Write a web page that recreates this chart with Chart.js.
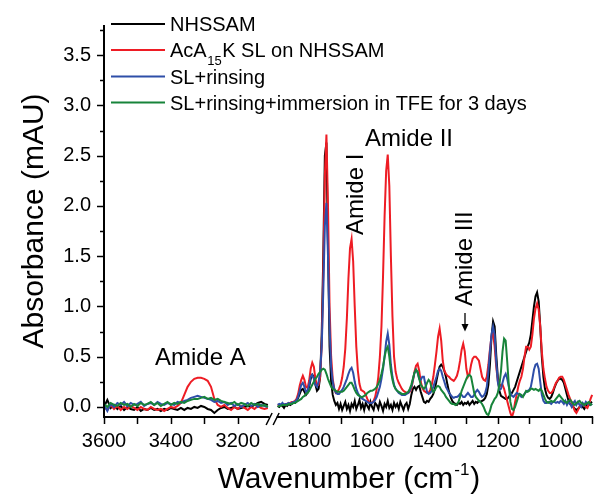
<!DOCTYPE html>
<html><head><meta charset="utf-8">
<script src="https://cdn.jsdelivr.net/npm/chart.js@4/dist/chart.umd.min.js"></script>
<style>html,body{margin:0;padding:0;background:#fff}#wrap{width:595px;height:494px}</style>
</head><body><div id="wrap"><canvas id="c" width="595" height="494"></canvas></div>
<script>
const seriesNames = ['NHSSAM', 'AcA15K SL on NHSSAM', 'SL+rinsing', 'SL+rinsing+immersion in TFE for 3 days'];
const seriesColors = ['#000000', '#ee1c24', '#2e4ea8', '#17843a'];

const leftWavenumbers = [
3600,3590,3580,3570,3560,3550,3540,3530,3520,3510,
3500,3490,3480,3470,3460,3450,3440,3430,3420,3410,
3400,3390,3380,3370,3360,3350,3340,3330,3320,3310,
3300,3290,3280,3270,3260,3250,3240,3230,3220,3210,
3200,3190,3180,3170,3160,3150,3140,3130,3120,3110];

const rightWavenumbers = [
1900,1895,1890,1885,1880,1875,1870,1865,1860,1855,
1850,1845,1840,1835,1830,1825,1820,1815,1810,1805,
1800,1795,1790,1785,1780,1775,1770,1765,1760,1755,
1750,1745,1740,1735,1730,1725,1720,1715,1710,1705,
1700,1695,1690,1685,1680,1675,1670,1665,1660,1655,
1650,1645,1640,1635,1630,1625,1620,1615,1610,1605,
1600,1595,1590,1585,1580,1575,1570,1565,1560,1555,
1550,1545,1540,1535,1530,1525,1520,1515,1510,1505,
1500,1495,1490,1485,1480,1475,1470,1465,1460,1455,
1450,1445,1440,1435,1430,1425,1420,1415,1410,1405,
1400,1395,1390,1385,1380,1375,1370,1365,1360,1355,
1350,1345,1340,1335,1330,1325,1320,1315,1310,1305,
1300,1295,1290,1285,1280,1275,1270,1265,1260,1255,
1250,1245,1240,1235,1230,1225,1220,1215,1210,1205,
1200,1195,1190,1185,1180,1175,1170,1165,1160,1155,
1150,1145,1140,1135,1130,1125,1120,1115,1110,1105,
1100,1095,1090,1085,1080,1075,1070,1065,1060,1055,
1050,1045,1040,1035,1030,1025,1020,1015,1010,1005,
1000,995,990,985,980,975,970,965,960,955,
950,945,940,935,930,925,920,915,910,905,
900];

const nhssamLeft = [
0.00,0.07,-0.01,0.02,-0.02,0.01,-0.03,0.00,-0.02,-0.03,
0.00,-0.04,-0.02,-0.03,-0.01,-0.03,-0.02,-0.04,-0.02,-0.03,
-0.01,-0.02,-0.03,-0.01,-0.03,-0.01,-0.02,0.00,-0.01,0.01,
0.00,-0.02,-0.03,-0.06,-0.03,-0.01,0.00,-0.02,-0.01,0.00,
-0.02,-0.01,0.00,0.01,0.00,0.02,0.04,0.05,0.03,0.02];
const slLeft = [
0.00,-0.03,0.02,-0.02,0.01,-0.03,0.00,-0.02,0.01,-0.01,
-0.03,0.00,-0.02,-0.03,0.00,-0.02,-0.03,-0.02,-0.04,-0.02,
0.00,-0.01,0.01,0.04,0.12,0.20,0.25,0.28,0.29,0.29,
0.28,0.26,0.20,0.08,0.02,0.00,0.02,-0.01,-0.03,0.00,
-0.02,0.01,-0.01,-0.03,0.00,-0.02,0.01,-0.01,-0.02,-0.01];
const rinseLeft = [
0.02,-0.04,0.03,0.00,0.04,0.02,0.05,0.01,0.04,0.02,
0.03,0.05,0.01,0.03,0.04,0.02,0.05,0.03,0.02,0.04,
0.03,0.02,0.05,0.04,0.06,0.07,0.09,0.10,0.11,0.10,
0.09,0.08,0.07,0.05,0.06,0.04,0.05,0.02,0.04,0.01,
0.03,0.00,0.02,0.04,0.01,0.03,0.00,0.02,0.01,0.00];
const tfeLeft = [
0.03,0.00,0.04,0.02,0.01,0.04,0.02,0.03,0.00,0.03,
0.01,0.04,0.02,0.03,0.05,0.02,0.04,0.01,0.03,0.05,
0.02,0.04,0.03,0.05,0.04,0.06,0.07,0.08,0.08,0.09,
0.10,0.08,0.09,0.07,0.08,0.06,0.05,0.04,0.03,0.05,
0.02,0.04,0.03,0.01,0.04,0.02,0.03,0.01,0.02,0.00];

const nhssamRight = [
0.01,0.00,0.02,0.01,-0.01,0.02,0.01,0.03,0.02,0.03,
0.04,0.04,0.06,0.09,0.13,0.17,0.18,0.15,0.12,0.14,
0.20,0.28,0.32,0.30,0.22,0.16,0.18,0.30,0.72,1.50,
2.50,2.63,1.60,0.60,0.25,0.12,0.06,0.02,0.04,-0.02,
0.03,-0.03,0.01,0.05,-0.02,0.02,-0.04,0.03,0.00,0.06,
-0.02,0.02,0.07,-0.01,0.03,-0.03,0.04,0.01,-0.02,0.05,
0.00,-0.03,0.04,0.02,-0.02,0.05,0.01,-0.04,0.03,0.00,
0.06,-0.01,0.02,-0.03,0.04,0.00,0.03,-0.02,0.05,0.01,
-0.03,0.02,0.04,-0.02,0.03,0.12,0.18,0.20,0.17,0.20,
0.21,0.15,0.10,0.05,0.04,0.06,0.05,0.08,0.10,0.13,
0.18,0.26,0.34,0.40,0.42,0.40,0.36,0.30,0.22,0.15,
0.10,0.06,0.04,0.03,0.02,0.04,0.03,0.05,0.02,0.04,
0.03,0.05,0.02,0.04,0.06,0.03,0.05,0.04,0.06,0.05,
0.06,0.07,0.09,0.13,0.22,0.42,0.70,0.85,0.80,0.52,
0.30,0.16,0.11,0.10,0.09,0.08,0.08,0.10,0.12,0.14,
0.17,0.20,0.25,0.30,0.35,0.40,0.45,0.50,0.55,0.60,
0.64,0.72,0.86,1.00,1.10,1.14,1.05,0.80,0.50,0.30,
0.18,0.12,0.09,0.08,0.10,0.14,0.19,0.23,0.26,0.28,
0.28,0.27,0.24,0.18,0.12,0.06,0.03,0.02,0.00,-0.02,
-0.03,-0.02,0.00,0.02,0.00,-0.02,0.01,0.03,0.02,0.04,
0.05];
const slRight = [
0.02,0.02,0.01,0.03,0.02,0.03,0.03,0.04,0.04,0.05,
0.05,0.06,0.08,0.13,0.21,0.27,0.31,0.27,0.20,0.19,
0.26,0.38,0.44,0.40,0.28,0.21,0.22,0.30,0.62,1.35,
2.30,2.71,2.00,1.00,0.50,0.28,0.18,0.14,0.15,0.18,
0.22,0.29,0.40,0.58,0.88,1.28,1.58,1.67,1.45,1.00,
0.60,0.36,0.23,0.17,0.16,0.15,0.12,0.08,0.05,0.04,
0.04,0.06,0.10,0.18,0.30,0.50,0.80,1.30,1.90,2.35,
2.51,2.20,1.50,0.90,0.50,0.35,0.28,0.24,0.21,0.18,
0.16,0.15,0.14,0.14,0.15,0.18,0.26,0.35,0.41,0.43,
0.36,0.25,0.19,0.16,0.15,0.14,0.14,0.17,0.22,0.30,
0.42,0.55,0.70,0.78,0.66,0.46,0.36,0.33,0.31,0.30,
0.28,0.27,0.26,0.28,0.31,0.37,0.46,0.57,0.63,0.55,
0.38,0.30,0.33,0.42,0.48,0.50,0.50,0.48,0.46,0.38,
0.30,0.27,0.26,0.30,0.42,0.57,0.70,0.73,0.60,0.40,
0.26,0.20,0.22,0.22,0.18,0.12,0.06,0.00,-0.06,-0.10,
-0.05,0.05,0.12,0.20,0.26,0.30,0.38,0.50,0.60,0.60,
0.57,0.60,0.72,0.88,0.98,1.03,0.97,0.80,0.55,0.38,
0.28,0.20,0.16,0.14,0.14,0.16,0.20,0.24,0.26,0.29,
0.30,0.30,0.27,0.22,0.17,0.12,0.08,0.05,0.00,-0.04,
-0.06,-0.03,0.00,0.02,0.03,0.02,0.00,-0.01,0.03,0.08,
0.12];
const rinseRight = [
0.02,0.03,0.02,0.04,0.02,0.03,0.03,0.04,0.03,0.04,
0.05,0.05,0.07,0.10,0.16,0.22,0.24,0.20,0.15,0.16,
0.22,0.30,0.32,0.28,0.22,0.20,0.25,0.35,0.60,1.15,
1.80,2.03,1.50,0.80,0.40,0.25,0.18,0.14,0.13,0.13,
0.15,0.17,0.20,0.24,0.28,0.33,0.37,0.39,0.34,0.25,
0.18,0.14,0.11,0.09,0.08,0.07,0.06,0.05,0.04,0.04,
0.04,0.05,0.07,0.10,0.15,0.20,0.28,0.38,0.50,0.65,
0.73,0.62,0.42,0.30,0.22,0.18,0.16,0.14,0.13,0.12,
0.12,0.12,0.13,0.14,0.16,0.20,0.27,0.34,0.37,0.34,
0.28,0.27,0.30,0.30,0.22,0.15,0.13,0.14,0.16,0.20,
0.25,0.30,0.36,0.38,0.36,0.30,0.25,0.20,0.17,0.14,
0.12,0.10,0.09,0.10,0.10,0.11,0.13,0.12,0.10,0.10,
0.12,0.14,0.12,0.10,0.10,0.12,0.15,0.17,0.15,0.12,
0.10,0.11,0.14,0.20,0.35,0.55,0.72,0.80,0.72,0.45,
0.25,0.17,0.18,0.24,0.30,0.33,0.28,0.20,0.14,0.11,
0.10,0.12,0.14,0.13,0.12,0.10,0.11,0.13,0.15,0.16,
0.17,0.20,0.28,0.37,0.42,0.43,0.38,0.25,0.12,0.06,
0.04,0.04,0.05,0.04,0.03,0.05,0.05,0.04,0.05,0.04,
0.06,0.05,0.03,0.06,0.02,0.05,0.03,0.00,0.04,0.06,
0.02,0.05,0.02,0.00,0.04,0.02,0.05,0.03,0.04,0.02,
0.03];
const tfeRight = [
0.00,0.01,0.01,0.02,0.02,0.02,0.02,0.03,0.03,0.03,
0.04,0.04,0.05,0.06,0.07,0.08,0.10,0.11,0.13,0.14,
0.16,0.19,0.22,0.25,0.28,0.30,0.33,0.35,0.37,0.38,
0.37,0.33,0.28,0.24,0.20,0.18,0.17,0.16,0.15,0.15,
0.15,0.15,0.16,0.18,0.20,0.22,0.24,0.24,0.21,0.17,
0.14,0.12,0.11,0.10,0.10,0.11,0.12,0.14,0.15,0.16,
0.16,0.17,0.18,0.20,0.23,0.27,0.33,0.40,0.50,0.57,
0.60,0.50,0.36,0.27,0.21,0.18,0.16,0.15,0.14,0.13,
0.13,0.13,0.14,0.15,0.18,0.22,0.28,0.34,0.37,0.35,
0.28,0.22,0.20,0.18,0.20,0.24,0.27,0.25,0.18,0.15,
0.17,0.20,0.21,0.20,0.17,0.15,0.13,0.10,0.08,0.06,
0.04,0.03,0.03,0.02,0.03,0.05,0.10,0.16,0.20,0.24,
0.28,0.31,0.32,0.30,0.22,0.14,0.10,0.08,0.06,0.05,
0.03,0.00,-0.04,-0.07,-0.08,-0.04,0.02,0.05,0.08,0.10,
0.14,0.22,0.35,0.55,0.68,0.66,0.45,0.22,0.05,-0.02,
-0.03,0.00,0.05,0.10,0.13,0.12,0.10,0.13,0.16,0.15,
0.16,0.18,0.18,0.17,0.18,0.17,0.16,0.18,0.16,0.12,
0.08,0.05,0.04,0.05,0.06,0.05,0.06,0.08,0.10,0.12,
0.10,0.08,0.06,0.05,0.04,0.06,0.07,0.05,0.03,0.02,
0.04,0.05,0.06,0.04,0.03,0.02,0.03,0.04,0.05,0.02,
0.03];

const xTickLabels = [3600, 3400, 3200, 1800, 1600, 1400, 1200, 1000];
const xMinorTicks = [3500, 3300, 1700, 1500, 1300, 1100, 900];
const yTickValues = [0, 0.5, 1, 1.5, 2, 2.5, 3, 3.5];
const yMinorTicks = [0.25, 0.75, 1.25, 1.75, 2.25, 2.75, 3.25, 3.75];

// broken wavenumber axis: left segment 3600->3100, right segment 1900->900
const LEFT_START = 3600, LEFT_SCALE = 0.335;
const RIGHT_START = 1900, RIGHT_OFFSET = 174, RIGHT_SCALE = 0.315;
function toAxis(w) {
  return w >= 2500 ? (LEFT_START - w) * LEFT_SCALE : RIGHT_OFFSET + (RIGHT_START - w) * RIGHT_SCALE;
}
function buildPoints(left, right) {
  const pts = leftWavenumbers.map((w, i) => ({x: toAxis(w), y: left[i]}));
  pts.push({x: (toAxis(3110) + RIGHT_OFFSET) / 2, y: null});
  rightWavenumbers.forEach((w, i) => pts.push({x: toAxis(w), y: right[i]}));
  return pts;
}

const FONT = "'Liberation Sans', Arial, Helvetica, sans-serif";

const decor = {
  id: 'decor',
  afterDraw(chart) {
    const {ctx, chartArea: a, scales: {x, y}} = chart;
    ctx.save();
    ctx.strokeStyle = '#000';
    ctx.fillStyle = '#000';
    ctx.lineCap = 'butt';
    ctx.lineWidth = 2;
    const leftEnd = x.getPixelForValue(toAxis(3105));
    const rightStart = x.getPixelForValue(RIGHT_OFFSET - 1);
    ctx.beginPath();
    ctx.moveTo(a.left, a.top); ctx.lineTo(a.left, a.bottom + 1);
    ctx.moveTo(a.left - 1, a.bottom); ctx.lineTo(leftEnd, a.bottom);
    ctx.moveTo(rightStart, a.bottom); ctx.lineTo(a.right, a.bottom);
    ctx.stroke();
    ctx.lineWidth = 1.5;
    ctx.beginPath();
    yTickValues.forEach(v => { const p = Math.round(y.getPixelForValue(v)) + 0.5; ctx.moveTo(a.left - 7, p); ctx.lineTo(a.left, p); });
    yMinorTicks.forEach(v => { const p = Math.round(y.getPixelForValue(v)) + 0.5; ctx.moveTo(a.left - 4, p); ctx.lineTo(a.left, p); });
    xTickLabels.concat(xMinorTicks).forEach(w => { const p = Math.round(x.getPixelForValue(toAxis(w))) + 0.5; ctx.moveTo(p, a.bottom); ctx.lineTo(p, a.bottom + 7); });
    ctx.stroke();
    const gc = (leftEnd + rightStart) / 2;
    ctx.beginPath();
    ctx.moveTo(gc - 7, a.bottom + 8); ctx.lineTo(gc - 1, a.bottom - 4);
    ctx.moveTo(gc, a.bottom + 8); ctx.lineTo(gc + 6, a.bottom - 4);
    ctx.stroke();

    ctx.font = '24px ' + FONT;
    ctx.textBaseline = 'alphabetic';
    ctx.textAlign = 'left';
    ctx.fillText('Amide A', 155, 365);
    ctx.fillText('Amide II', 365, 146);
    ctx.save(); ctx.translate(363, 235); ctx.rotate(-Math.PI / 2); ctx.fillText('Amide I', 0, 0); ctx.restore();
    ctx.save(); ctx.translate(471.5, 306); ctx.rotate(-Math.PI / 2); ctx.fillText('Amide III', 0, 0); ctx.restore();
    ctx.lineWidth = 1.3;
    ctx.beginPath(); ctx.moveTo(465, 313); ctx.lineTo(465, 329); ctx.stroke();
    ctx.beginPath(); ctx.moveTo(461.5, 324); ctx.lineTo(465, 331.5); ctx.lineTo(468.5, 324); ctx.closePath(); ctx.fill();

    const legY = [24, 50, 76.5, 102.5];
    ctx.lineWidth = 2;
    legY.forEach((ly, i) => {
      ctx.strokeStyle = seriesColors[i];
      ctx.beginPath(); ctx.moveTo(111, ly); ctx.lineTo(165, ly); ctx.stroke();
    });
    ctx.fillStyle = '#000';
    ctx.font = '20px ' + FONT;
    ctx.fillText(seriesNames[0], 170, legY[0] + 7);
    let lx = 170;
    ctx.fillText('AcA', lx, legY[1] + 7); lx += ctx.measureText('AcA').width;
    ctx.font = '13px ' + FONT; ctx.fillText('15', lx + 0.5, legY[1] + 15); lx += ctx.measureText('15').width + 1;
    ctx.font = '20px ' + FONT; ctx.fillText('K SL on NHSSAM', lx, legY[1] + 7);
    ctx.fillText(seriesNames[2], 170, legY[2] + 7);
    ctx.fillText(seriesNames[3], 170, legY[3] + 7);

    ctx.font = '30px ' + FONT;
    ctx.save(); ctx.translate(43, 221); ctx.rotate(-Math.PI / 2); ctx.textAlign = 'center'; ctx.fillText('Absorbance (mAU)', 0, 0); ctx.restore();
    const t1 = 'Wavenumber (cm', sup = '-1', t2 = ')';
    const w1 = ctx.measureText(t1).width, w3 = ctx.measureText(t2).width;
    ctx.font = '17px ' + FONT; const w2 = ctx.measureText(sup).width;
    let tx = 349 - (w1 + w2 + w3 + 2) / 2;
    ctx.font = '30px ' + FONT; ctx.fillText(t1, tx, 488); tx += w1 + 1;
    ctx.font = '17px ' + FONT; ctx.fillText(sup, tx, 475); tx += w2 + 1;
    ctx.font = '30px ' + FONT; ctx.fillText(t2, tx, 488);
    ctx.restore();
  }
};

const tickFont = {family: FONT, size: 20};
new Chart(document.getElementById('c'), {
  type: 'line',
  data: {
    datasets: [
      {label: seriesNames[0], data: buildPoints(nhssamLeft, nhssamRight), borderColor: seriesColors[0], order: 4},
      {label: seriesNames[1], data: buildPoints(slLeft, slRight), borderColor: seriesColors[1], order: 3},
      {label: seriesNames[2], data: buildPoints(rinseLeft, rinseRight), borderColor: seriesColors[2], order: 2},
      {label: seriesNames[3], data: buildPoints(tfeLeft, tfeRight), borderColor: seriesColors[3], order: 1}
    ]
  },
  options: {
    responsive: false,
    animation: false,
    devicePixelRatio: 1,
    spanGaps: false,
    layout: {padding: {top: 22, right: 1, left: 0, bottom: 0}},
    elements: {point: {radius: 0}, line: {borderWidth: 2, tension: 0}},
    plugins: {legend: {display: false}, tooltip: {enabled: false}},
    scales: {
      x: {
        type: 'linear', min: 0, max: 490,
        grid: {display: false, drawTicks: false}, border: {display: false},
        afterBuildTicks: s => { s.ticks = xTickLabels.map(w => ({value: toAxis(w)})); },
        afterFit: s => { s.height = 77; },
        ticks: {autoSkip: false, maxRotation: 0, padding: 12, color: '#000', font: tickFont,
          callback: (v, i) => String(xTickLabels[i])}
      },
      y: {
        type: 'linear', min: -0.1, max: 3.8,
        grid: {display: false, drawTicks: false}, border: {display: false},
        afterBuildTicks: s => { s.ticks = yTickValues.map(v => ({value: v})); },
        afterFit: s => { s.width = 104; },
        ticks: {padding: 13, color: '#000', font: tickFont, callback: v => Number(v).toFixed(1)}
      }
    }
  },
  plugins: [decor]
});
</script></body></html>
